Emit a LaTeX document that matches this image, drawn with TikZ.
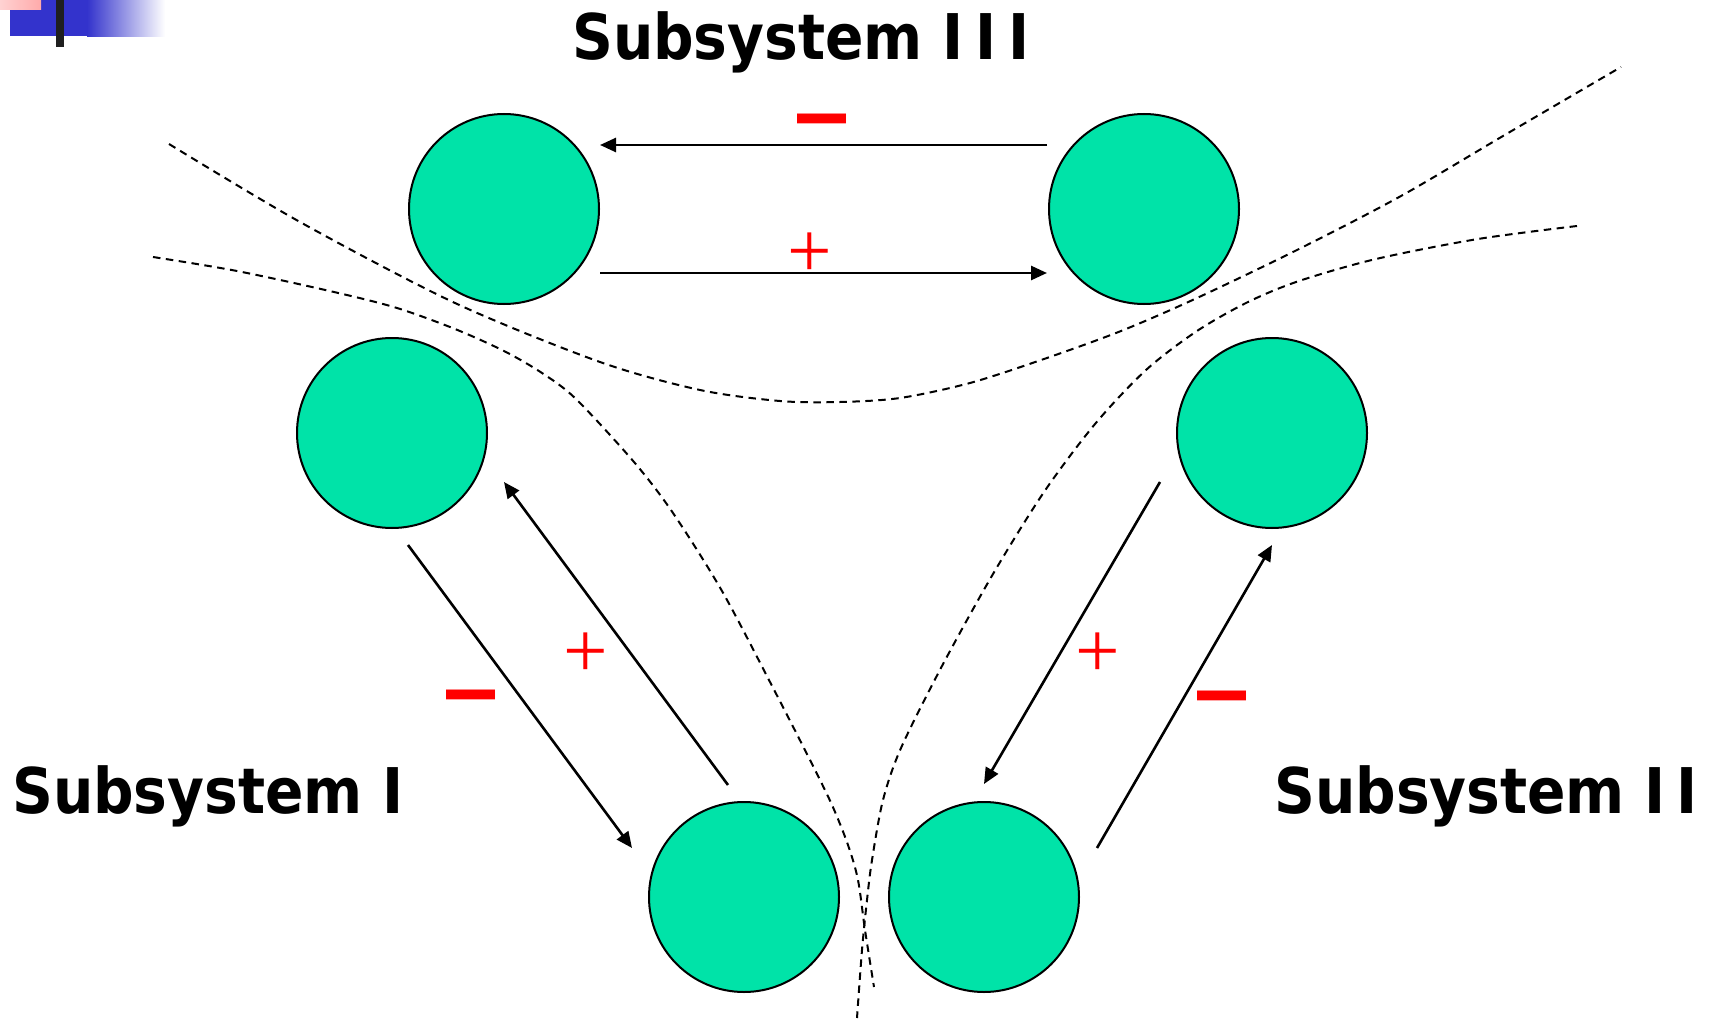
\documentclass[tikz,border=0pt]{standalone}
\usepackage{fontspec}
\usetikzlibrary{arrows.meta}
\newfontfamily\titlefont{DejaVu Sans}[FakeStretch=0.9]
\newfontfamily\plusfont{Liberation Serif}
\newfontfamily\minusfont{Liberation Sans}
\definecolor{ball}{RGB}{0,227,168}
\definecolor{logoblue}{RGB}{51,51,204}
\definecolor{pinkA}{RGB}{255,210,210}
\definecolor{pinkB}{RGB}{255,170,170}
\tikzset{
  ballnode/.style={circle, draw=black, line width=2pt, fill=ball, minimum size=190pt, inner sep=0pt},
  link/.style={line width=2.6pt, -{Triangle[length=16pt,width=14pt]}},
  sepline/.style={line width=2pt, dash pattern=on 7.5pt off 5.5pt},
  title/.style={font=\titlefont\bfseries\fontsize{63}{70}\selectfont, inner sep=0pt, anchor=base west},
  plussign/.style={text=red, inner sep=0pt, anchor=base, font=\plusfont\fontsize{79}{80}\selectfont},
  minussign/.style={text=red, inner sep=0pt, anchor=base, font=\minusfont\bfseries\fontsize{99}{100}\selectfont}
}
\begin{document}
\begin{tikzpicture}[x=1pt,y=-1pt]
\fill[white] (0,0) rectangle (1709,1019);
\useasboundingbox (0,0) rectangle (1709,1019);
% logo
\fill[left color=logoblue, right color=white] (87,0) rectangle (165,37);
\fill[logoblue] (10,0) rectangle (88,36);
\fill[left color=pinkA, right color=pinkB] (0,0) rectangle (41,10);
\fill[black!88] (56,0) rectangle (64,47);
% separators
\draw[sepline] plot[smooth] coordinates {(169,144) (300,222) (455,303) (600,362) (700,390) (780,401) (840,402) (900,398) (970,383) (1044,359) (1121,331) (1197,298) (1299,249) (1401,196) (1503,136) (1621,67)};
\draw[sepline] plot[smooth] coordinates {(153,257) (237,271) (334,292) (397,308) (455,329) (504,351) (542,373) (576,399) (634,462) (673,513) (722,591) (770,682) (809,758) (832,805) (848,845) (858,880) (865,930) (874,987)};
\draw[sepline] plot[smooth] coordinates {(1577,226) (1478,239) (1376,259) (1299,281) (1248,302) (1197,331) (1146,370) (1095,424) (1044,492) (993,574) (942,666) (901,748) (883,800) (872,860) (867,900) (862,950) (857,1018)};
% balls
\node[ballnode] (t1) at (504,209) {};
\node[ballnode] (t2) at (1144,209) {};
\node[ballnode] (l1) at (392,433) {};
\node[ballnode] (l2) at (744,897) {};
\node[ballnode] (r1) at (1272,433) {};
\node[ballnode] (r2) at (984,897) {};
% arrow ends
\coordinate (t2a) at (1047,145); \coordinate (t1a) at (600,145);
\coordinate (t1b) at (600,273); \coordinate (t2b) at (1047,273);
\coordinate (l1a) at (408,545); \coordinate (l2a) at (632,848);
\coordinate (l2b) at (728,785); \coordinate (l1b) at (504,482);
\coordinate (r1a) at (1160,482); \coordinate (r2a) at (984,784);
\coordinate (r2b) at (1097,848); \coordinate (r1b) at (1272,545);
\draw[link] (t2a) -- (t1a);
\draw[link] (t1b) -- (t2b);
\draw[link] (l1a) -- (l2a);
\draw[link] (l2b) -- (l1b);
\draw[link] (r1a) -- (r2a);
\draw[link] (r2b) -- (r1b);
% signs
\node[minussign] (m3) at (822.5,145.5) {–};
\node[plussign] (p3) at (810,278) {+};
\node[minussign] (m1) at (471,721) {–};
\node[plussign] (p1) at (586,677) {+};
\node[plussign] (p2) at (1098,677) {+};
\node[minussign] (m2) at (1222,722) {–};
% titles
\node[title] (s3) at (572,60) {Subsystem I\kern12pt I\kern12pt I};
\node[title] (s1) at (12,813) {Subsystem I};
\node[title] (s2) at (1274,813) {Subsystem I\kern11pt I};
\end{tikzpicture}
\end{document}
